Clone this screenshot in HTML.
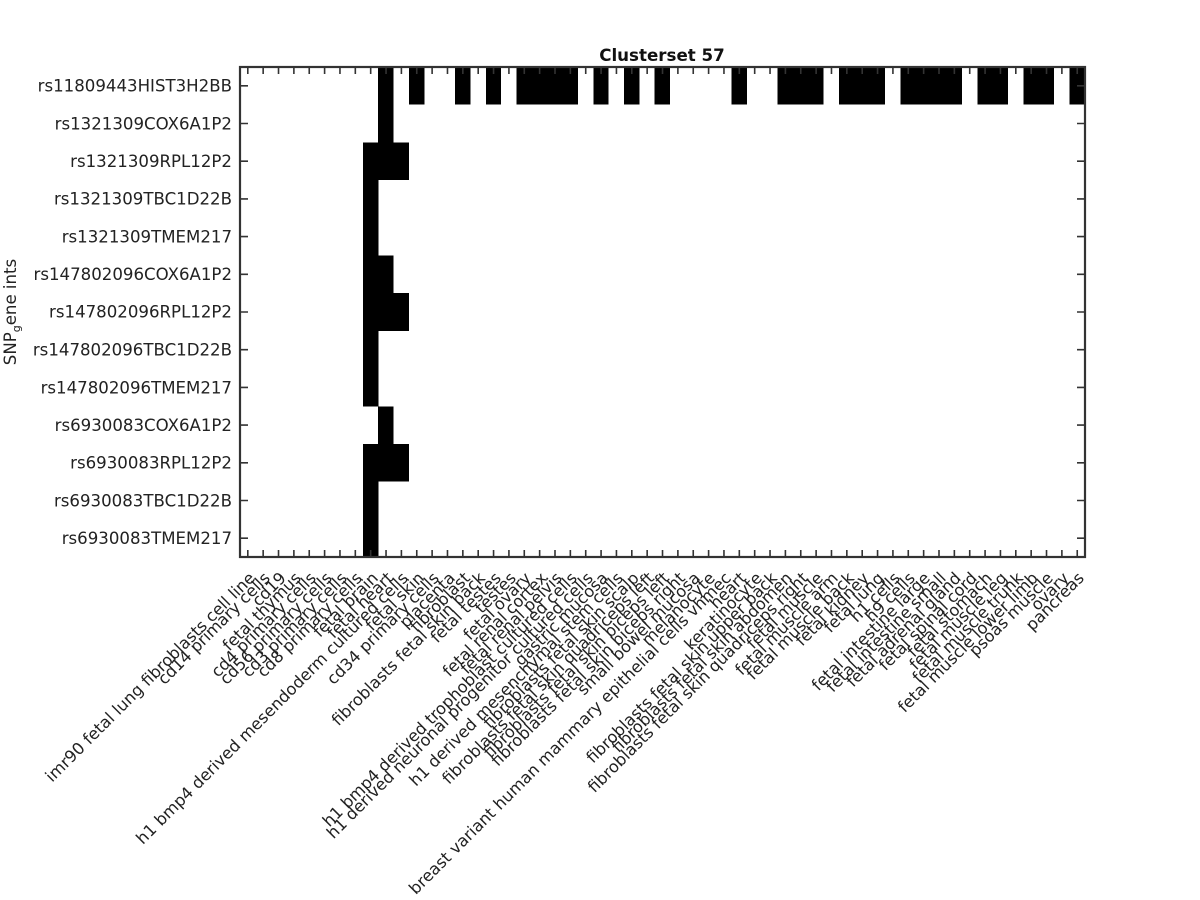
<!DOCTYPE html>
<html><head><meta charset="utf-8"><style>html,body{margin:0;padding:0;background:#fff}svg{display:block}</style></head>
<body>
<svg width="1200" height="900" viewBox="0 0 1200 900" xmlns="http://www.w3.org/2000/svg" font-family="DejaVu Sans, Liberation Sans, sans-serif">
<rect width="1200" height="900" fill="#fff"/>
<g fill="#000" shape-rendering="crispEdges">
<rect x="378.2" y="67" width="15.4" height="37.7"/>
<rect x="409" y="67" width="15.4" height="37.7"/>
<rect x="455" y="67" width="15.4" height="37.7"/>
<rect x="485.8" y="67" width="15.4" height="37.7"/>
<rect x="516.5" y="67" width="61.4" height="37.7"/>
<rect x="593.3" y="67" width="15.4" height="37.7"/>
<rect x="624" y="67" width="15.4" height="37.7"/>
<rect x="654.7" y="67" width="15.4" height="37.7"/>
<rect x="731.5" y="67" width="15.4" height="37.7"/>
<rect x="777.6" y="67" width="46.1" height="37.7"/>
<rect x="839" y="67" width="46.1" height="37.7"/>
<rect x="900.5" y="67" width="61.4" height="37.7"/>
<rect x="977.3" y="67" width="30.7" height="37.7"/>
<rect x="1023.4" y="67" width="30.7" height="37.7"/>
<rect x="1069.4" y="67" width="15.6" height="37.7"/>
<rect x="378.2" y="104.7" width="15.4" height="37.7"/>
<rect x="362.9" y="142.4" width="46.1" height="37.7"/>
<rect x="362.9" y="180.1" width="15.4" height="75.4"/>
<rect x="362.9" y="255.5" width="30.7" height="37.7"/>
<rect x="362.9" y="293.2" width="46.1" height="37.7"/>
<rect x="362.9" y="330.9" width="15.4" height="75.4"/>
<rect x="378.2" y="406.3" width="15.4" height="37.7"/>
<rect x="362.9" y="444" width="46.1" height="37.7"/>
<rect x="362.9" y="481.7" width="15.4" height="75.3"/>
</g>
<g stroke="#333">
<line x1="240" y1="70.5" x2="1085" y2="70.5" stroke-width="7" stroke-dasharray="1.6 13.76" stroke-dashoffset="8.36"/>
<line x1="240" y1="553.5" x2="1085" y2="553.5" stroke-width="7" stroke-dasharray="1.6 13.76" stroke-dashoffset="8.36"/>
<line x1="244" y1="67" x2="244" y2="557" stroke-width="8" stroke-dasharray="1.6 36.1" stroke-dashoffset="-18"/>
<line x1="1081" y1="67" x2="1081" y2="557" stroke-width="8" stroke-dasharray="1.6 36.1" stroke-dashoffset="-18"/>
<rect x="240" y="67" width="845" height="490" fill="none" stroke-width="2.2"/>
</g>
<text x="662" y="61" text-anchor="middle" font-size="16.7" font-weight="bold" fill="#111">Clusterset 57</text>
<g font-size="16.6" fill="#222" text-anchor="end">
<text x="232" y="91.5">rs11809443HIST3H2BB</text>
<text x="232" y="129.5">rs1321309COX6A1P2</text>
<text x="232" y="167">rs1321309RPL12P2</text>
<text x="232" y="204.5">rs1321309TBC1D22B</text>
<text x="232" y="242.5">rs1321309TMEM217</text>
<text x="232" y="280">rs147802096COX6A1P2</text>
<text x="232" y="317.5">rs147802096RPL12P2</text>
<text x="232" y="355.5">rs147802096TBC1D22B</text>
<text x="232" y="393.5">rs147802096TMEM217</text>
<text x="232" y="431">rs6930083COX6A1P2</text>
<text x="232" y="468.5">rs6930083RPL12P2</text>
<text x="232" y="506.5">rs6930083TBC1D22B</text>
<text x="232" y="544">rs6930083TMEM217</text>
</g>
<text transform="translate(16,312) rotate(-90)" text-anchor="middle" font-size="16.6" fill="#222">SNP<tspan font-size="11" dy="4">g</tspan><tspan dy="-4">ene ints</tspan></text>
<g font-size="16.3" fill="#222" text-anchor="end">
<text transform="translate(256,579) rotate(-45)">imr90 fetal lung fibroblasts cell line</text>
<text transform="translate(271,579) rotate(-45)">cd14 primary cells</text>
<text transform="translate(287,579) rotate(-45)">cd19</text>
<text transform="translate(302,579) rotate(-45)">fetal thymus</text>
<text transform="translate(317,579) rotate(-45)">cd4 primary cells</text>
<text transform="translate(333,579) rotate(-45)">cd56 primary cells</text>
<text transform="translate(348,579) rotate(-45)">cd3 primary cells</text>
<text transform="translate(363,579) rotate(-45)">cd8 primary cells</text>
<text transform="translate(379,579) rotate(-45)">fetal brain</text>
<text transform="translate(394,579) rotate(-45)">fetal heart</text>
<text transform="translate(409,579) rotate(-45)">h1 bmp4 derived mesendoderm cultured cells</text>
<text transform="translate(425,579) rotate(-45)">fetal skin</text>
<text transform="translate(440,579) rotate(-45)">cd34 primary cells</text>
<text transform="translate(456,579) rotate(-45)">placenta</text>
<text transform="translate(471,579) rotate(-45)">fibroblast</text>
<text transform="translate(486,579) rotate(-45)">fibroblasts fetal skin back</text>
<text transform="translate(502,579) rotate(-45)">fetal testes</text>
<text transform="translate(517,579) rotate(-45)">testes</text>
<text transform="translate(532,579) rotate(-45)">fetal ovary</text>
<text transform="translate(548,579) rotate(-45)">fetal renal cortex</text>
<text transform="translate(563,579) rotate(-45)">fetal renal pelvis</text>
<text transform="translate(578,579) rotate(-45)">h1 bmp4 derived trophoblast cultured cells</text>
<text transform="translate(594,579) rotate(-45)">h1 derived neuronal progenitor cultured cells</text>
<text transform="translate(609,579) rotate(-45)">gastric mucosa</text>
<text transform="translate(624,579) rotate(-45)">h1 derived mesenchymal stem cells</text>
<text transform="translate(640,579) rotate(-45)">fibroblasts fetal skin scalp</text>
<text transform="translate(655,579) rotate(-45)">fibroblasts fetal skin quadriceps left</text>
<text transform="translate(670,579) rotate(-45)">fibroblasts fetal skin biceps left</text>
<text transform="translate(686,579) rotate(-45)">fibroblasts fetal skin biceps right</text>
<text transform="translate(701,579) rotate(-45)">small bowel mucosa</text>
<text transform="translate(716,579) rotate(-45)">melanocyte</text>
<text transform="translate(732,579) rotate(-45)">breast variant human mammary epithelial cells vhmec</text>
<text transform="translate(747,579) rotate(-45)">heart</text>
<text transform="translate(763,579) rotate(-45)">keratinocyte</text>
<text transform="translate(778,579) rotate(-45)">fibroblasts fetal skin upper back</text>
<text transform="translate(793,579) rotate(-45)">fibroblasts fetal skin abdomen</text>
<text transform="translate(809,579) rotate(-45)">fibroblasts fetal skin quadriceps right</text>
<text transform="translate(824,579) rotate(-45)">fetal muscle</text>
<text transform="translate(839,579) rotate(-45)">fetal muscle arm</text>
<text transform="translate(855,579) rotate(-45)">fetal muscle back</text>
<text transform="translate(870,579) rotate(-45)">fetal kidney</text>
<text transform="translate(885,579) rotate(-45)">fetal lung</text>
<text transform="translate(901,579) rotate(-45)">h1 cells</text>
<text transform="translate(916,579) rotate(-45)">h9 cells</text>
<text transform="translate(931,579) rotate(-45)">fetal intestine large</text>
<text transform="translate(947,579) rotate(-45)">fetal intestine small</text>
<text transform="translate(962,579) rotate(-45)">fetal adrenal gland</text>
<text transform="translate(978,579) rotate(-45)">fetal spinal cord</text>
<text transform="translate(993,579) rotate(-45)">fetal stomach</text>
<text transform="translate(1008,579) rotate(-45)">fetal muscle leg</text>
<text transform="translate(1024,579) rotate(-45)">fetal muscle trunk</text>
<text transform="translate(1039,579) rotate(-45)">fetal muscle lower limb</text>
<text transform="translate(1054,579) rotate(-45)">psoas muscle</text>
<text transform="translate(1070,579) rotate(-45)">ovary</text>
<text transform="translate(1085,579) rotate(-45)">pancreas</text>
</g>
</svg>
</body></html>
